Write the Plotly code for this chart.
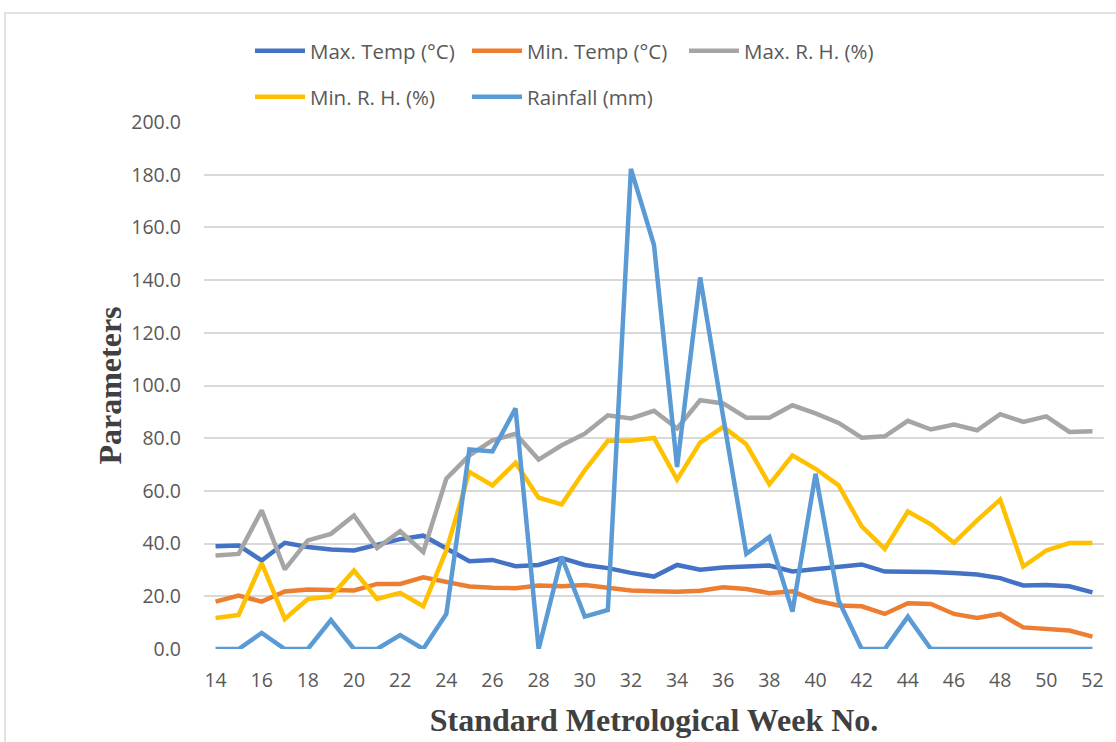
import plotly.graph_objects as go

weeks = list(range(14, 53))
max_temp = [39.0, 39.3, 33.6, 40.3, 38.7, 37.8, 37.4, 39.7, 41.7, 43.0, 38.0, 33.3, 33.8,
            31.4, 31.9, 34.5, 31.9, 30.7, 28.9, 27.5, 31.9, 30.1, 30.9, 31.2, 31.7, 29.4,
            30.2, 31.4, 32.1, 29.4, 29.5, 29.2, 28.8, 28.3, 26.9, 24.1, 24.3, 23.8, 21.5]
min_temp = [18.0, 20.3, 18.0, 21.8, 22.6, 22.2, 22.2, 24.7, 24.7, 27.2, 25.3, 23.7, 23.2,
            23.1, 24.1, 23.8, 24.3, 23.1, 22.2, 21.9, 21.7, 22.1, 23.4, 22.8, 21.2, 21.9,
            18.4, 16.5, 16.2, 13.3, 17.4, 17.1, 13.3, 11.8, 13.3, 8.2, 7.6, 7.0, 4.7]
max_rh = [35.5, 36.1, 52.6, 30.2, 41.2, 43.7, 50.7, 38.3, 44.7, 36.8, 64.6, 73.5, 79.2,
          81.7, 71.9, 77.3, 81.7, 88.7, 87.5, 90.4, 83.7, 94.4, 93.2, 87.8, 87.8, 92.5,
          89.4, 85.8, 80.2, 80.7, 86.6, 83.3, 85.2, 83.0, 89.1, 86.2, 88.3, 82.4, 82.6]
min_rh = [11.8, 12.9, 32.6, 11.4, 19.0, 19.9, 29.8, 19.0, 21.3, 16.2, 37.4, 67.2, 62.1,
          70.7, 57.4, 54.9, 67.8, 79.0, 79.0, 80.1, 64.3, 78.3, 84.3, 77.7, 62.5, 73.5,
          68.4, 62.1, 46.5, 38.0, 52.2, 47.3, 40.3, 48.8, 56.7, 31.3, 37.4, 40.2, 40.2]
rainfall = [0.0, 0.0, 6.1, 0.0, 0.0, 11.0, 0.0, 0.0, 5.3, 0.0, 13.3, 75.7, 75.0,
            91.3, 0.0, 34.9, 12.3, 14.8, 182.2, 153.3, 69.1, 141.0, 88.0, 36.1, 42.5, 14.2,
            66.5, 18.4, 0.0, 0.0, 12.3, 0.0, 0.0, 0.0, 0.0, 0.0, 0.0, 0.0, 0.0]

series = [
    ("Max. Temp (°C)", max_temp, "#4472C4", "legend"),
    ("Min. Temp (°C)", min_temp, "#ED7D31", "legend"),
    ("Max. R. H. (%)", max_rh, "#A5A5A5", "legend"),
    ("Min. R. H. (%)", min_rh, "#FFC000", "legend2"),
    ("Rainfall (mm)", rainfall, "#5B9BD5", "legend2"),
]
x_ticks = list(range(14, 53, 2))
y_ticks = [0, 20, 40, 60, 80, 100, 120, 140, 160, 180, 200]

fig = go.Figure()
for name, vals, color, lg in series:
    fig.add_trace(go.Scatter(x=weeks, y=vals, name=name, mode="lines",
                             line=dict(color=color, width=4.5), legend=lg))

tick_font = dict(family="Open Sans, Lato, sans-serif", size=19.5, color="#595959")
legend_font = dict(family="Open Sans, Lato, sans-serif", size=20.5, color="#595959")
title_font = dict(family="Liberation Serif, Times New Roman, serif", size=32, color="#404040")
legend_common = dict(orientation="h", xanchor="left", yanchor="middle",
                     font=legend_font, itemwidth=50, entrywidth=152,
                     entrywidthmode="pixels", bgcolor="rgba(0,0,0,0)",
                     traceorder="normal", tracegroupgap=0)

fig.update_layout(
    width=1116, height=742,
    margin=dict(l=204, r=12, t=122, b=93),
    paper_bgcolor="white", plot_bgcolor="white",
    showlegend=True,
    legend=dict(x=0.0511, y=1.1347, **legend_common),
    legend2=dict(x=0.0511, y=1.0474, **legend_common),
    xaxis=dict(range=[13.5, 52.5], tickvals=x_ticks, showgrid=False, zeroline=False,
               showline=False, ticks="", tickfont=tick_font, ticklabelstandoff=17,
               automargin=False,
               title=dict(text="<b>Standard Metrological Week No.</b>",
                          font=title_font, standoff=17)),
    yaxis=dict(range=[0, 200], tickvals=y_ticks, tickformat=".1f", showgrid=True,
               gridcolor="#D9D9D9", gridwidth=1.5, zeroline=False, showline=False,
               ticks="", tickfont=tick_font, ticklabelstandoff=22, automargin=False,
               title=dict(text="<b>Parameters</b>", font=title_font, standoff=0)),
    shapes=[dict(type="rect", xref="paper", yref="paper",
                 x0=-0.2211, x1=1.05, y0=-0.3, y1=1.2068,
                 line=dict(color="#D9D9D9", width=1.5), fillcolor="rgba(0,0,0,0)",
                 layer="below")],
)

fig.write_html("out.html", config={"displayModeBar": False},
               post_script="document.body.style.margin='0px';"
                           "document.body.style.overflow='hidden';")
